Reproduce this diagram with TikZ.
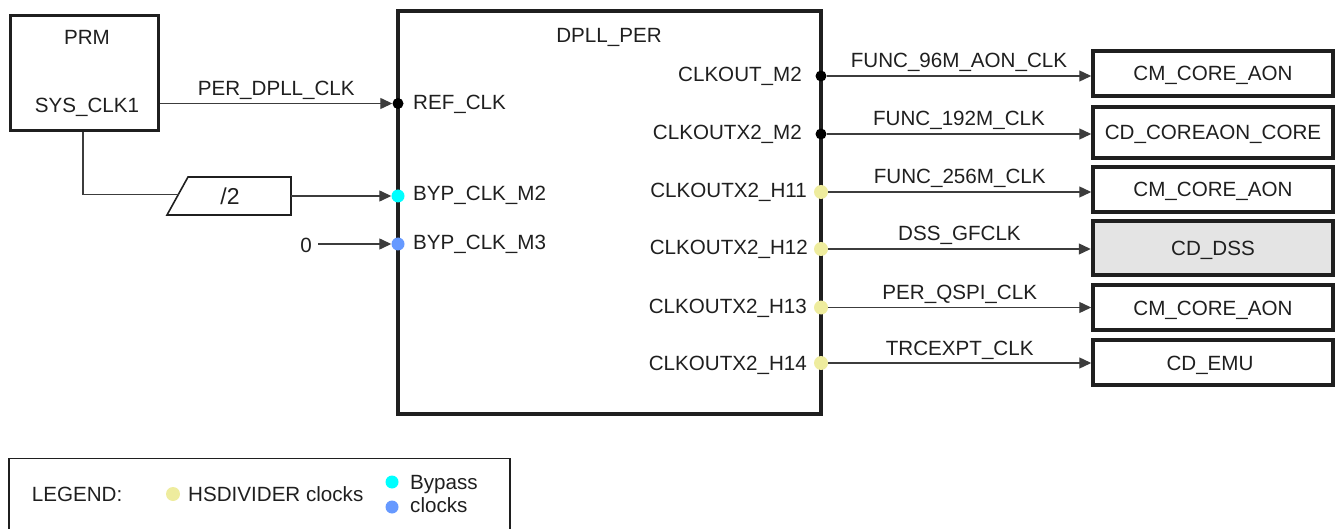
\documentclass[tikz,border=0pt]{standalone}
\usepackage{fontspec}
\setmainfont{Liberation Sans}
\usetikzlibrary{arrows.meta}
\definecolor{txt}{HTML}{1F1F1F}
\definecolor{ln}{HTML}{3C3C3C}
\definecolor{hsd}{HTML}{EEEC9E}
\definecolor{byp}{HTML}{00FFFF}
\definecolor{byq}{HTML}{6699FF}
\definecolor{dss}{HTML}{E4E4E4}
\begin{document}
\begin{tikzpicture}[x=1pt,y=-1pt,
  every node/.style={font=\fontsize{20.6}{24}\selectfont, text=txt, inner sep=0pt},
  blk/.style={draw=txt, line width=3.5pt},
  conn/.style={draw=ln, line width=1.3pt, -{Triangle[length=12pt,width=11pt]}},
  wire/.style={draw=ln, line width=1.3pt},
  dot/.style={circle, inner sep=0pt, minimum size=11pt, fill=black},
  hdot/.style={circle, inner sep=0pt, minimum size=14pt, fill=hsd},
  bdot/.style={circle, inner sep=0pt, minimum size=13pt},
  lbl/.style={midway, anchor=base, yshift=8pt},
]
\useasboundingbox (0,0) rectangle (1338,529);

% PRM block
\node[blk, minimum width=148pt, minimum height=115pt] (prm) at (84.5,73) {};
\node[anchor=base] (prmt) at (87,45) {PRM};
\node[anchor=base] (sys) at (87,112.7) {SYS\_CLK1};

% DPLL block
\node[blk, line width=4pt, minimum width=423pt, minimum height=403pt] (dpll) at (609.5,212.5) {};
\node[anchor=base] (dpllt) at (609,42.7) {DPLL\_PER};

% left ports
\node[dot] (ref) at (398,103.5) {};
\node[bdot, fill=byp] (bm2) at (398,196) {};
\node[bdot, fill=byq] (bm3) at (398,244) {};
\node[anchor=base west] (refl) at (413,110) {REF\_CLK};
\node[anchor=base west] (bm2l) at (413,201) {BYP\_CLK\_M2};
\node[anchor=base west] (bm3l) at (413,250) {BYP\_CLK\_M3};

% right ports
\node[dot] (o1) at (821,76) {};
\node[dot] (o2) at (821,134) {};
\node[hdot] (o3) at (821,192) {};
\node[hdot] (o4) at (821,249) {};
\node[hdot] (o5) at (821,307.5) {};
\node[hdot] (o6) at (821,363) {};
\node[anchor=base east] (o1l) at (802,81.7) {CLKOUT\_M2};
\node[anchor=base east] (o2l) at (802,140) {CLKOUTX2\_M2};
\node[anchor=base east] (o3l) at (807,197.3) {CLKOUTX2\_H11};
\node[anchor=base east] (o4l) at (808,255) {CLKOUTX2\_H12};
\node[anchor=base east] (o5l) at (807,313) {CLKOUTX2\_H13};
\node[anchor=base east] (o6l) at (807,370) {CLKOUTX2\_H14};

% target blocks
\node[blk, minimum width=240pt, minimum height=45pt] (t1) at (1213,73.5) {};
\node[blk, minimum width=240pt, minimum height=51pt] (t2) at (1213,132.5) {};
\node[blk, minimum width=240pt, minimum height=45pt] (t3) at (1213,189.5) {};
\node[blk, line width=4.5pt, fill=dss, minimum width=240pt, minimum height=54pt] (t4) at (1213,248) {};
\node[blk, minimum width=240pt, minimum height=45pt] (t5) at (1213,307.5) {};
\node[blk, minimum width=240pt, minimum height=45pt] (t6) at (1213,362.5) {};
\node[anchor=base] (t1l) at (1213,81) {CM\_CORE\_AON};
\node[anchor=base] (t2l) at (1213,140) {CD\_COREAON\_CORE};
\node[anchor=base] (t3l) at (1213,197) {CM\_CORE\_AON};
\node[anchor=base] (t4l) at (1213,255.5) {CD\_DSS};
\node[anchor=base] (t5l) at (1213,315) {CM\_CORE\_AON};
\node[anchor=base] (t6l) at (1210,370) {CD\_EMU};

% output connectors
\draw[conn] (o1) -- (o1 -| t1.west) node[lbl] {FUNC\_96M\_AON\_CLK};
\draw[conn] (o2) -- (o2 -| t2.west) node[lbl] {FUNC\_192M\_CLK};
\draw[conn] (o3) -- (o3 -| t3.west) node[lbl] {FUNC\_256M\_CLK};
\draw[conn] (o4) -- (o4 -| t4.west) node[lbl] {DSS\_GFCLK};
\draw[conn] (o5) -- (o5 -| t5.west) node[lbl] {PER\_QSPI\_CLK};
\draw[conn] (o6) -- (o6 -| t6.west) node[lbl] {TRCEXPT\_CLK};

% input connectors
\draw[conn] (prm.east |- ref) -- (ref) node[midway, anchor=base, yshift=7.5pt] {PER\_DPLL\_CLK};

% divider
\coordinate (dva) at (167,215);
\coordinate (dvb) at (188,177);
\coordinate (dvc) at (291,177);
\coordinate (dvd) at (291,215);
\coordinate (dvin) at (178.6,194.5);
\draw[draw=txt, line width=1.6pt, line join=miter] (dva) -- (dvb) -- (dvc) -- (dvd) -- cycle;
\node[anchor=base, font=\fontsize{23}{26}\selectfont] (div) at (230,205) {/2};
\draw[wire] ([xshift=-1.5pt]prm.south) |- (dvin);
\draw[conn] (dvd |- bm2) -- (bm2);

% zero input
\node[anchor=base east, inner xsep=6pt] (zero) at (318,252.7) {0};
\draw[conn] (zero.east |- bm3) -- (bm3);

% legend
\draw[draw=txt, line width=1.2pt] (9,535) -- (9,458.5) -- (510,458.5) -- (510,535);
\node[anchor=base west] (leg) at (31.7,501.7) {LEGEND:};
\node[hdot] (lh) at (173,494) {};
\node[anchor=base west] (lhl) at (188,501.7) {HSDIVIDER clocks};
\node[bdot, fill=byp] (lc) at (392,482) {};
\node[bdot, fill=byq] (lb) at (392,507) {};
\node[anchor=base west] (lcl) at (410,489.3) {Bypass};
\node[anchor=base west] (lbl2) at (410,512.7) {clocks};
\end{tikzpicture}
\end{document}
